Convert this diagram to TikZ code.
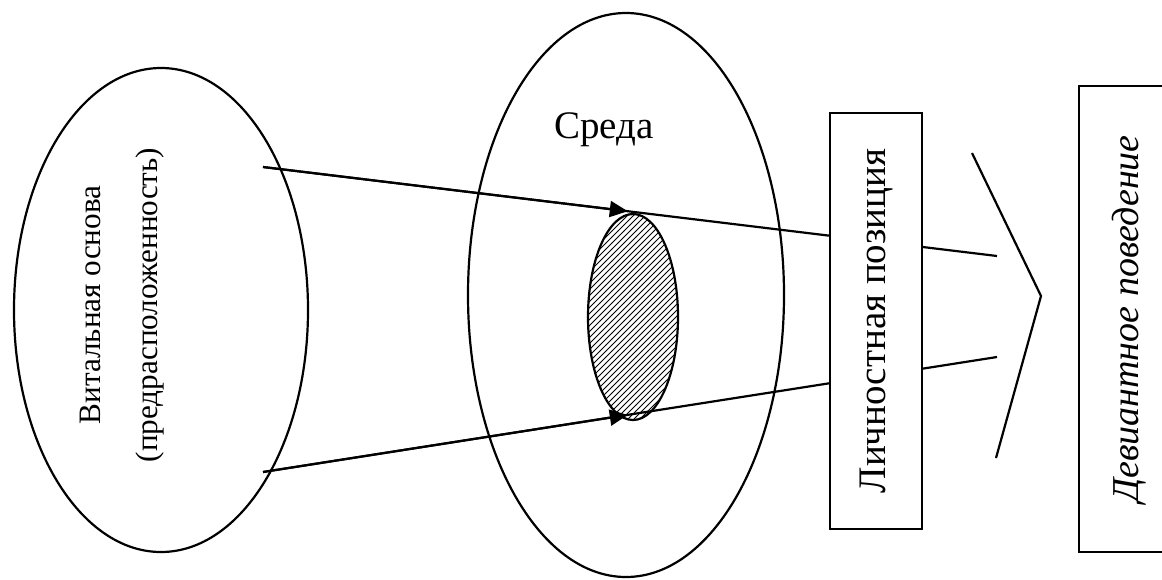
\documentclass[tikz,border=0pt]{standalone}
\usepackage{fontspec}
\setmainfont{Liberation Serif}
\usetikzlibrary{patterns,arrows.meta,calc}

\begin{document}
\begin{tikzpicture}[x=0.5pt,y=-0.5pt,line width=1.1pt,
  >={Triangle[length=9pt,width=8pt]},
  lbl/.style={font=\fontsize{19.5}{28.5}\selectfont,inner sep=0pt},
  box/.style={draw,fill=white,rotate=90,font=\fontsize{19.5}{23}\selectfont,inner sep=0pt}]
  \clip (0,0) rectangle (1162,579);
  % circles of influence
  \draw (161,310) ellipse [x radius=147,y radius=242];
  \draw (626,295) ellipse [x radius=158,y radius=282];
  \draw[pattern=north east lines] (633,317) ellipse [x radius=45,y radius=103];
  \node[lbl,font=\fontsize{15.6}{28.5}\selectfont,rotate=90,align=center] (vital) at (122,305)
    {Витальная основа\\(предрасположенность)};
  \node[lbl] (sreda) at (604,130) {Среда};
  % rays
  \coordinate (a1) at (263,167); \coordinate (a2) at (997,256);
  \coordinate (b1) at (263,472); \coordinate (b2) at (997,357);
  \draw[->] (a1) -- ($(a1)!0.497!(a2)$); \draw (a1) -- (a2);
  \draw[->] (b1) -- ($(b1)!0.497!(b2)$); \draw (b1) -- (b2);
  \draw (972,153) -- (1041,296) -- (996,458);
  \node[box,minimum width=208pt,minimum height=46pt] (lp) at (876,321) {Личностная позиция};
  \node[box,font=\fontsize{19}{23}\selectfont,minimum width=233pt,minimum height=50pt] (dev) at (1129,319)
    {\itshape Девиантное поведение};
\end{tikzpicture}
\end{document}
